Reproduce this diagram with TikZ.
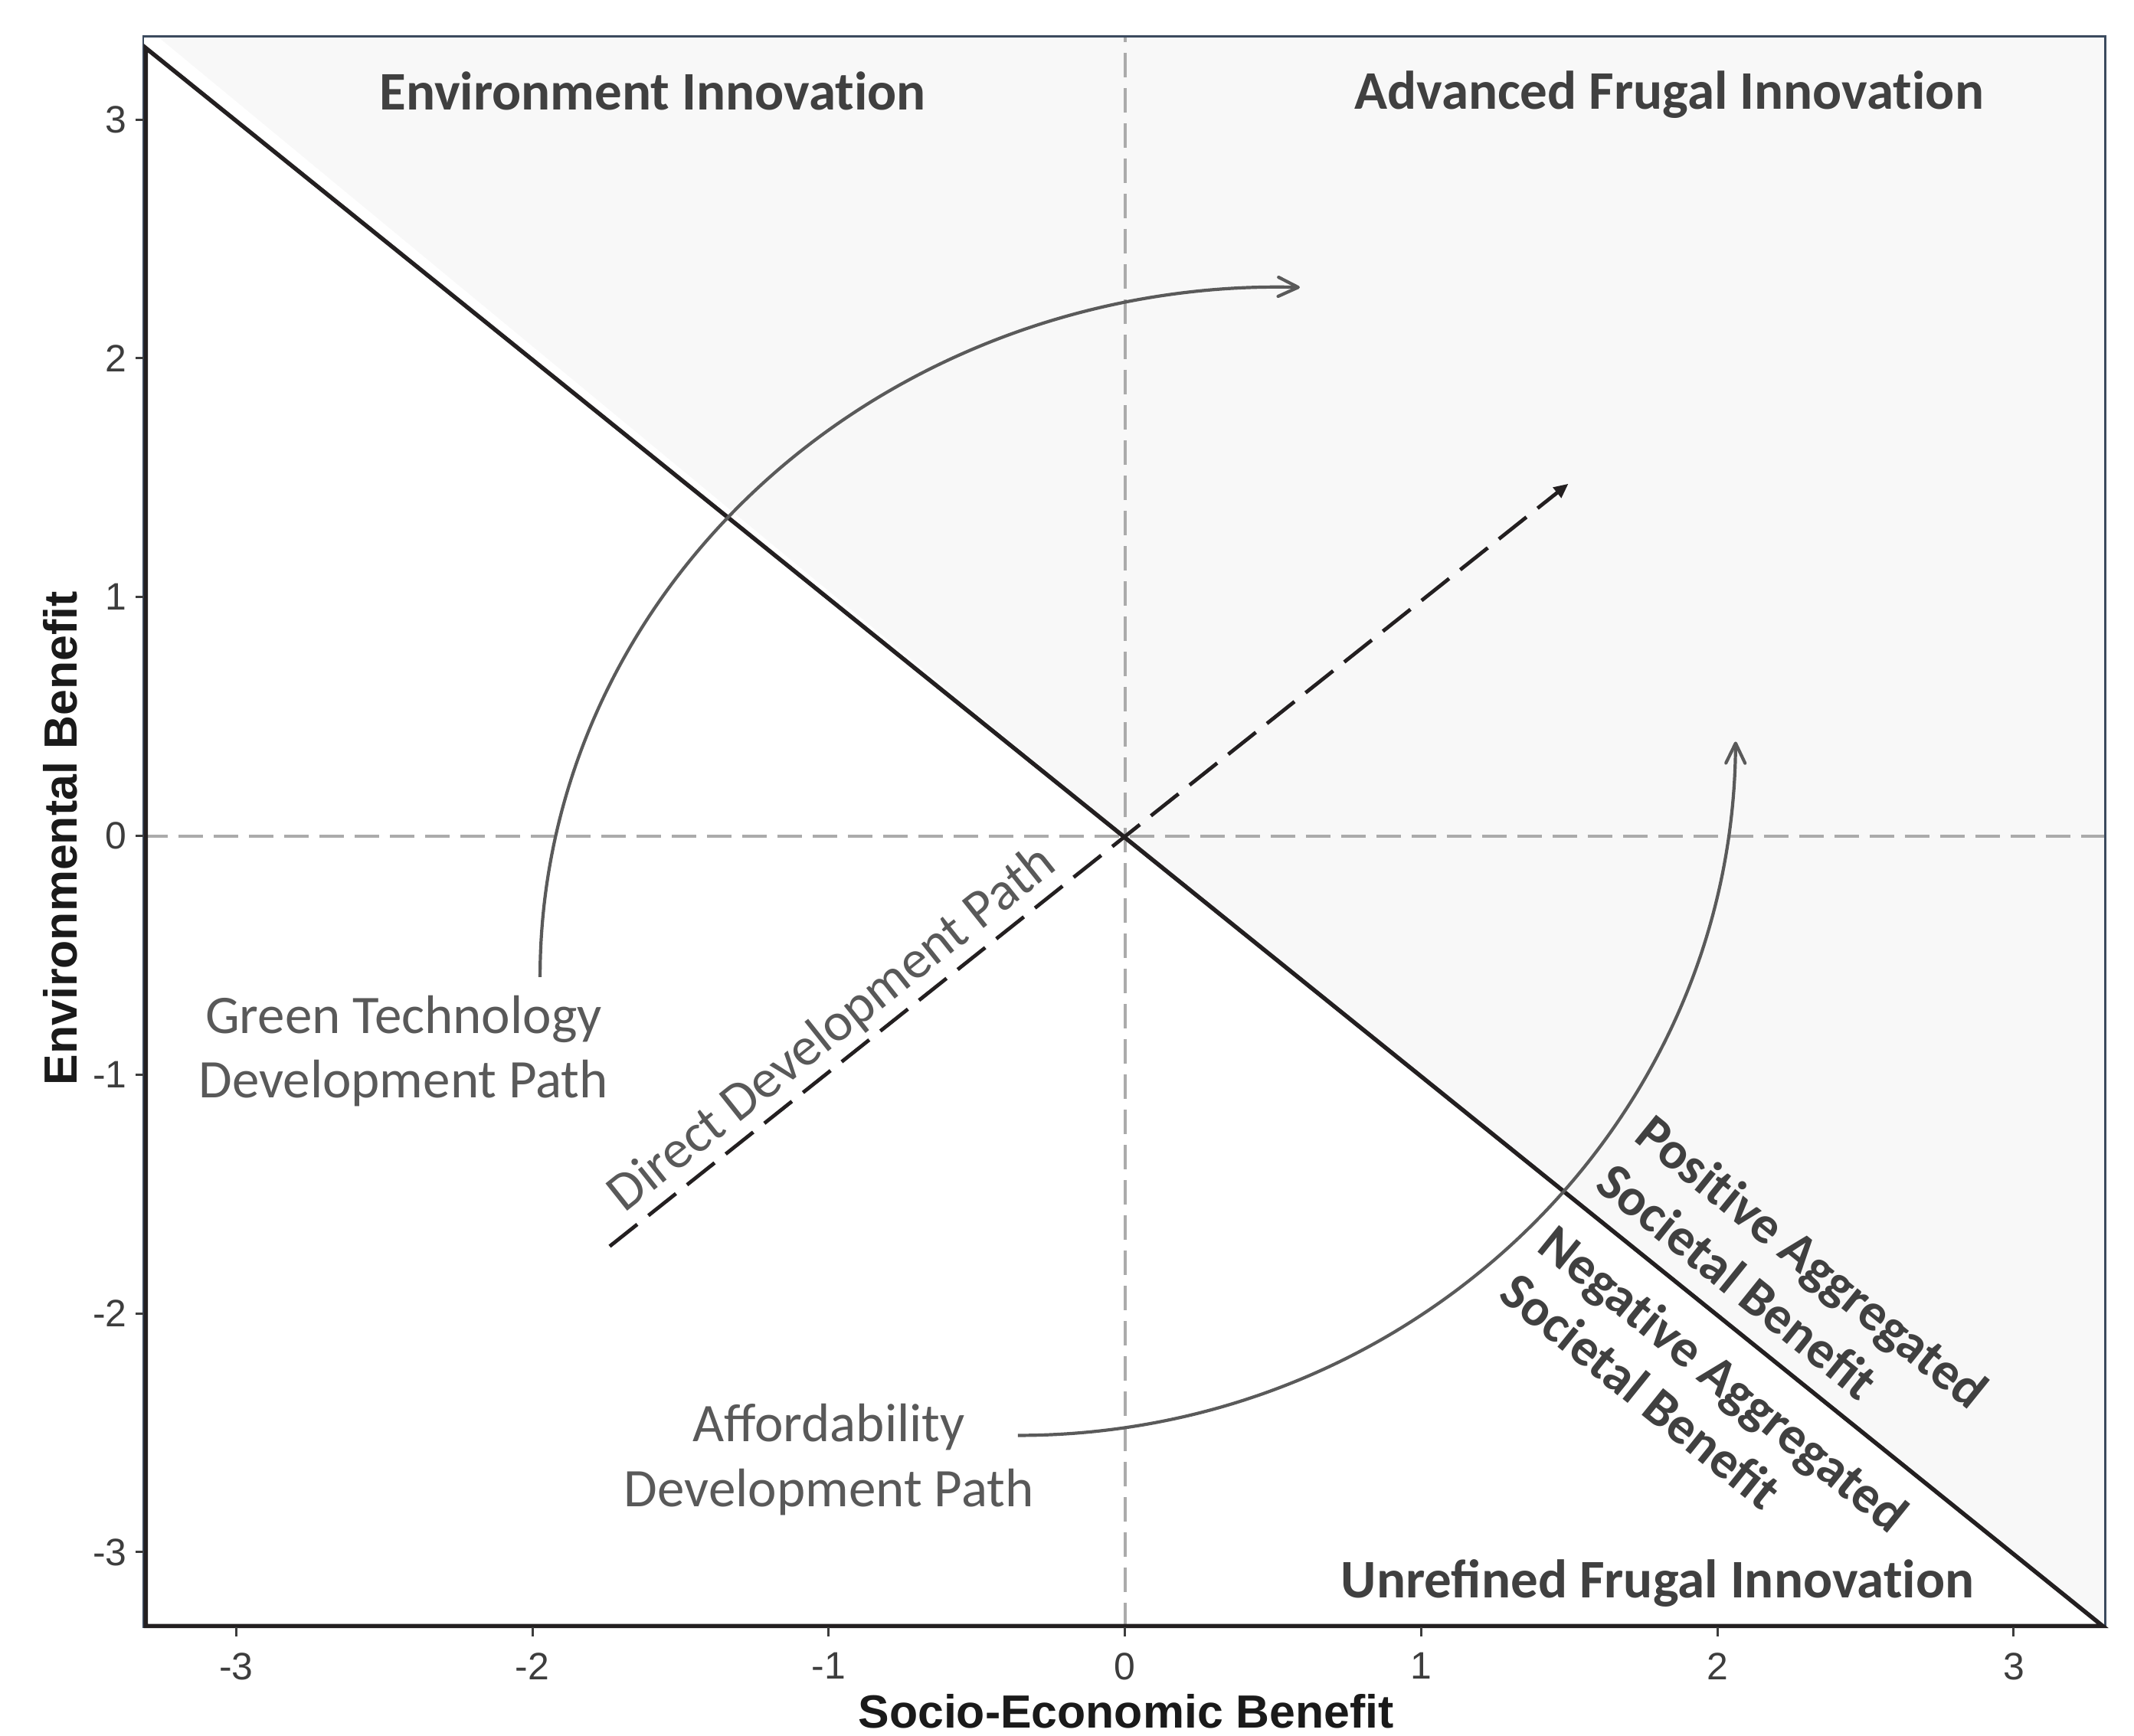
\documentclass[tikz,border=0pt]{standalone}
\usepackage{fontspec}
\setmainfont{Carlito}
\newfontfamily\axisfont{Liberation Sans}
\usetikzlibrary{arrows.meta}
\definecolor{fillgray}{HTML}{F8F8F8}
\definecolor{framecol}{HTML}{3B4A5E}
\definecolor{gridcol}{HTML}{ABABAB}
\definecolor{txtdark}{HTML}{404040}
\definecolor{txtgray}{HTML}{595959}
\definecolor{arccol}{HTML}{5A5A5A}
\definecolor{linecol}{HTML}{231F20}
\definecolor{tickcol}{HTML}{3D3D3D}
\definecolor{titlecol}{HTML}{1A1A1A}
\newcommand{\tibreak}{t\kern0pt i}
\tikzset{
  gridline/.style={gridcol, line width=0.04cm, dash pattern=on 0.32cm off 0.14cm},
  boundary/.style={linecol, line width=0.055cm, line join=miter},
  panelframe/.style={framecol, line width=0.025cm},
  tickmark/.style={tickcol, line width=0.03cm},
  directarrow/.style={linecol, line width=0.048cm, dash pattern=on 0.46cm off 0.185cm,
    -{Triangle[length=0.19cm,width=0.165cm]}},
  curvearrow/.style={arccol, line width=0.042cm,
    -{Straight Barb[length=0.26cm,width=0.25cm,round]}},
  regionlabel/.style={font=\bfseries\fontsize{20.2pt}{24pt}\selectfont, text=txtdark, inner sep=0pt},
  benefitlabel/.style={font=\bfseries\fontsize{19.6pt}{23pt}\selectfont, text=txtdark, inner sep=0pt,
    rotate=-38.87, anchor=base west},
  pathlabel/.style={font=\fontsize{20.2pt}{24pt}\selectfont, text=txtgray, inner sep=0pt},
  ticklabel/.style={font=\axisfont\fontsize{14.2pt}{17pt}\selectfont, text=tickcol, inner sep=0pt},
  axistitle/.style={font=\axisfont\bfseries\fontsize{17.3pt}{21pt}\selectfont, text=titlecol, inner sep=0pt},
}
\begin{document}
\begin{tikzpicture}[x=3.868cm, y=3.118cm]
\useasboundingbox (-3.797,-3.770) rectangle (3.406,3.501);

% shaded region above the diagonal
\fill[fillgray] (-3.266,3.349) -- (3.309,3.349) -- (3.309,-3.313) -- (0,0) -- cycle;

% zero grid lines
\coordinate (gx0) at (0,-3.313);
\coordinate (gx1) at (0,3.349);
\coordinate (gy0) at (-3.314,0);
\coordinate (gy1) at (3.309,0);
\draw[gridline] (gx0) -- (gx1);
\draw[gridline] (gy0) -- (gy1);

% panel frame
\draw[panelframe] (-3.314,-3.313) rectangle (3.309,3.349);

% lower-left triangle and diagonal
\coordinate (tl) at (-3.305,3.3);
\coordinate (bl) at (-3.305,-3.309);
\coordinate (br) at (3.3,-3.309);
\draw[boundary] (tl) -- (bl) -- (br) -- cycle;

% ticks and tick labels
\foreach \v [count=\i] in {-3,...,3} {
  \draw[tickmark] (\v,-3.313) -- (\v,-3.352);
  \node[ticklabel, anchor=north] (xl\i) at (\v,-3.420) {\v};
  \draw[tickmark] (-3.314,\v) -- (-3.340,\v);
  \node[ticklabel, anchor=east] (yl\i) at (-3.367,\v) {\v};
}

% axis titles
\node[axistitle, anchor=base] (xtitle) at (0.004,-3.735) {Socio-Economic Benefit};
\node[axistitle, anchor=base, rotate=90] (ytitle) at (-3.537,-0.01) {Environmental Benefit};

% region labels
\node[regionlabel, anchor=base] (envinno) at (-1.594,3.040) {Environment Innova\tibreak on};
\node[regionlabel, anchor=base] (advfrugal) at (1.837,3.043) {Advanced Frugal Innova\tibreak on};
\node[regionlabel, anchor=base] (unrefined) at (1.798,-3.192) {Unrefined Frugal Innova\tibreak on};

% benefit labels along the diagonal
\node[benefitlabel] (pos1) at (1.712,-1.271) {Posi\tibreak ve Aggregated};
\node[benefitlabel] (pos2) at (1.580,-1.473) {Societal Benefit};
\node[benefitlabel] (neg1) at (1.385,-1.732) {Nega\tibreak ve Aggregated};
\node[benefitlabel] (neg2) at (1.254,-1.934) {Societal Benefit};

% direct development path
\coordinate (dstart) at (-1.739,-1.719);
\coordinate (dend) at (1.497,1.475);
\draw[directarrow] (dstart) -- (dend);
\node[pathlabel, anchor=base west, rotate=38.5] (direct) at (-1.689,-1.584) {Direct Development Path};

% green technology development path
\node[pathlabel, anchor=base] (gt1) at (-2.435,-0.827) {Green Technology};
\node[pathlabel, anchor=base] (gt2) at (-2.435,-1.096) {Development Path};
\coordinate (gstart) at (-1.974,-0.591);
\draw[curvearrow] (gstart) arc[start angle=180, end angle=88.4, x radius=9.65cm, y radius=9.01cm];

% affordability development path
\node[pathlabel, anchor=base] (af1) at (-0.999,-2.538) {Affordability};
\node[pathlabel, anchor=base] (af2) at (-0.999,-2.809) {Development Path};
\coordinate (astart) at (-0.361,-2.511);
\draw[curvearrow] (astart) arc[start angle=270, end angle=359.7, x radius=9.37cm, y radius=9.108cm];
\end{tikzpicture}
\end{document}
